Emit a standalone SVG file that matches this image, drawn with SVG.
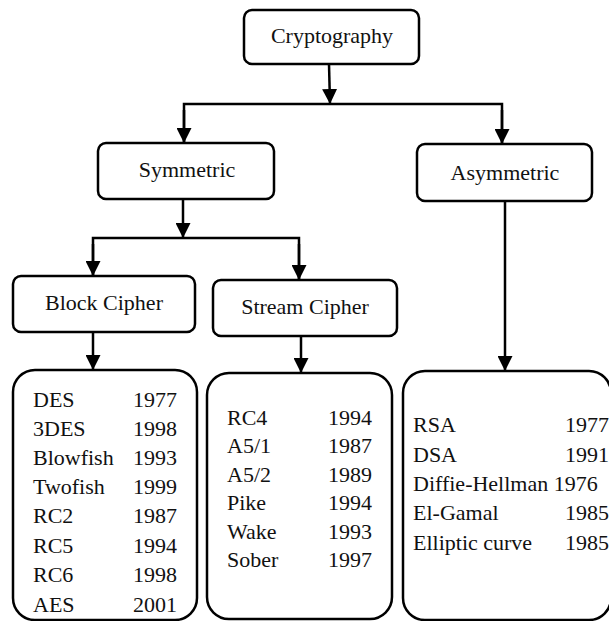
<svg xmlns="http://www.w3.org/2000/svg" width="609" height="621" viewBox="0 0 609 621">
<style>
.box{fill:#fff;stroke:#000;stroke-width:2.5}
.t{font-size:22px;fill:#111}
.c{text-anchor:middle}
.r{text-anchor:end}
.ln{fill:none;stroke:#000;stroke-width:2.5}
</style>
<defs>
<marker id="ah" viewBox="0 0 10 10" refX="10" refY="5" markerWidth="15" markerHeight="15" markerUnits="userSpaceOnUse" orient="auto">
<path d="M0,0 L10,5 L0,10 z" fill="#000"/>
</marker>
</defs>
<rect width="609" height="621" fill="#fff"/>
<g id="connectors">
<line class="ln" x1="329" y1="64" x2="330" y2="104" marker-end="url(#ah)"/>
<polyline class="ln" points="184,142 184,104 502,104 502,143"/>
<line class="ln" x1="184" y1="110" x2="184" y2="143" marker-end="url(#ah)"/>
<line class="ln" x1="502" y1="110" x2="502" y2="144" marker-end="url(#ah)"/>
<line class="ln" x1="183" y1="199" x2="183" y2="238" marker-end="url(#ah)"/>
<polyline class="ln" points="93,275 93,238 299,238 299,279"/>
<line class="ln" x1="93" y1="244" x2="93" y2="276" marker-end="url(#ah)"/>
<line class="ln" x1="299" y1="244" x2="299" y2="280" marker-end="url(#ah)"/>
<line class="ln" x1="93" y1="332" x2="93" y2="370" marker-end="url(#ah)"/>
<line class="ln" x1="301" y1="336" x2="301" y2="373" marker-end="url(#ah)"/>
<line class="ln" x1="505" y1="201" x2="505" y2="371" marker-end="url(#ah)"/>
</g>
<g id="cryptography">
<rect class="box" x="244" y="10" width="175" height="54" rx="8"/>
<text class="t c" font-family="Liberation Serif, serif" x="332" y="43">Cryptography</text>
</g>
<g id="symmetric">
<rect class="box" x="98" y="143" width="176" height="56" rx="8"/>
<text class="t c" font-family="Liberation Serif, serif" x="187" y="177">Symmetric</text>
</g>
<g id="asymmetric">
<rect class="box" x="417" y="144" width="175" height="57" rx="8"/>
<text class="t c" font-family="Liberation Serif, serif" x="505" y="180">Asymmetric</text>
</g>
<g id="block-cipher">
<rect class="box" x="13" y="276" width="182" height="56" rx="8"/>
<text class="t c" font-family="Liberation Serif, serif" x="104" y="310">Block Cipher</text>
</g>
<g id="stream-cipher">
<rect class="box" x="213" y="280" width="184" height="56" rx="8"/>
<text class="t c" font-family="Liberation Serif, serif" x="305" y="314">Stream Cipher</text>
</g>
<g id="block-list">
<rect class="box" x="13" y="370" width="184" height="250" rx="22"/>
<text class="t" font-family="Liberation Serif, serif" x="33" y="407">DES</text><text class="t r" font-family="Liberation Serif, serif" x="177" y="407">1977</text>
<text class="t" font-family="Liberation Serif, serif" x="33" y="436">3DES</text><text class="t r" font-family="Liberation Serif, serif" x="177" y="436">1998</text>
<text class="t" font-family="Liberation Serif, serif" x="33" y="465">Blowfish</text><text class="t r" font-family="Liberation Serif, serif" x="177" y="465">1993</text>
<text class="t" font-family="Liberation Serif, serif" x="33" y="494">Twofish</text><text class="t r" font-family="Liberation Serif, serif" x="177" y="494">1999</text>
<text class="t" font-family="Liberation Serif, serif" x="33" y="523">RC2</text><text class="t r" font-family="Liberation Serif, serif" x="177" y="523">1987</text>
<text class="t" font-family="Liberation Serif, serif" x="33" y="553">RC5</text><text class="t r" font-family="Liberation Serif, serif" x="177" y="553">1994</text>
<text class="t" font-family="Liberation Serif, serif" x="33" y="582">RC6</text><text class="t r" font-family="Liberation Serif, serif" x="177" y="582">1998</text>
<text class="t" font-family="Liberation Serif, serif" x="33" y="612">AES</text><text class="t r" font-family="Liberation Serif, serif" x="177" y="612">2001</text>
</g>
<g id="stream-list">
<rect class="box" x="207" y="373" width="185" height="246" rx="22"/>
<text class="t" font-family="Liberation Serif, serif" x="227" y="425">RC4</text><text class="t r" font-family="Liberation Serif, serif" x="372" y="425">1994</text>
<text class="t" font-family="Liberation Serif, serif" x="227" y="453">A5/1</text><text class="t r" font-family="Liberation Serif, serif" x="372" y="453">1987</text>
<text class="t" font-family="Liberation Serif, serif" x="227" y="482">A5/2</text><text class="t r" font-family="Liberation Serif, serif" x="372" y="482">1989</text>
<text class="t" font-family="Liberation Serif, serif" x="227" y="510">Pike</text><text class="t r" font-family="Liberation Serif, serif" x="372" y="510">1994</text>
<text class="t" font-family="Liberation Serif, serif" x="227" y="539">Wake</text><text class="t r" font-family="Liberation Serif, serif" x="372" y="539">1993</text>
<text class="t" font-family="Liberation Serif, serif" x="227" y="567">Sober</text><text class="t r" font-family="Liberation Serif, serif" x="372" y="567">1997</text>
</g>
<g id="asymmetric-list">
<rect class="box" x="403" y="371" width="208" height="249" rx="22"/>
<text class="t" font-family="Liberation Serif, serif" x="413" y="432">RSA</text><text class="t r" font-family="Liberation Serif, serif" x="609" y="432">1977</text>
<text class="t" font-family="Liberation Serif, serif" x="413" y="462">DSA</text><text class="t r" font-family="Liberation Serif, serif" x="609" y="462">1991</text>
<text class="t" font-family="Liberation Serif, serif" x="413" y="491">Diffie-Hellman 1976</text>
<text class="t" font-family="Liberation Serif, serif" x="413" y="520">El-Gamal</text><text class="t r" font-family="Liberation Serif, serif" x="609" y="520">1985</text>
<text class="t" font-family="Liberation Serif, serif" x="413" y="550">Elliptic curve</text><text class="t r" font-family="Liberation Serif, serif" x="609" y="550">1985</text>
</g>
</svg>
